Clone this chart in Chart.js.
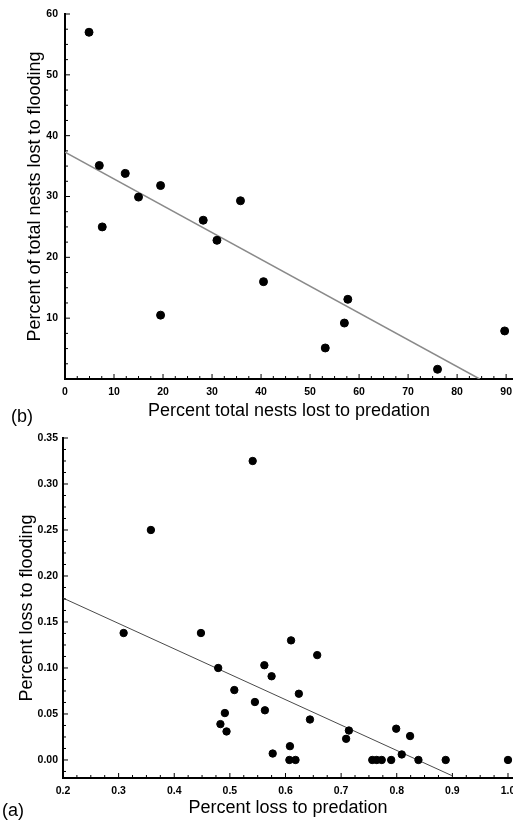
<!DOCTYPE html>
<html>
<head>
<meta charset="utf-8">
<script src="https://cdn.jsdelivr.net/npm/chart.js@4.4.0/dist/chart.umd.min.js"></script>
<style>
  html, body { margin: 0; padding: 0; background: #fff; }
  body { width: 513px; height: 820px; position: relative; overflow: hidden; }
  .panel { position: absolute; left: 0; width: 513px; }
  .tag { position: absolute; font: 18px "Liberation Sans", Arial, sans-serif; color: #000; }
</style>
</head>
<body>
<div class="panel" style="top:0;height:420px;"><canvas id="chartB"></canvas></div>
<div class="panel" style="top:420px;height:400px;"><canvas id="chartA"></canvas></div>
<div class="tag" style="left:11px;top:406px;">(b)</div>
<div class="tag" style="left:2px;top:800px;">(a)</div>
<script>
// Panel (b): percent of total nests
const predB = [4.9, 7.0, 7.6, 12.3, 15.0, 19.5, 19.5, 28.2, 31.0, 35.8, 40.5, 57.7, 57.0, 53.1, 76.0, 89.7];
const floodB = [57.0, 35.1, 25.0, 33.8, 29.9, 31.8, 10.5, 26.1, 22.8, 29.3, 16.0, 13.1, 9.2, 5.1, 1.6, 7.9];
const fitB = [{ x: 0, y: 37.3 }, { x: 84.6, y: 0 }];
const ticksBX = [0, 10, 20, 30, 40, 50, 60, 70, 80, 90];
const ticksBY = [10, 20, 30, 40, 50, 60];

// Panel (a): proportion lost
const predA = [0.541, 0.358, 0.309, 0.448, 0.479, 0.508, 0.545, 0.491, 0.483, 0.494,
  0.610, 0.657, 0.562, 0.575, 0.624, 0.563, 0.644, 0.714, 0.709, 0.799, 0.824,
  0.608, 0.577, 0.809, 0.839, 0.607, 0.618, 0.756, 0.764, 0.773, 0.790, 0.888, 1.0];
const floodA = [0.325, 0.250, 0.138, 0.138, 0.100, 0.076, 0.063, 0.051, 0.039, 0.031,
  0.130, 0.114, 0.103, 0.091, 0.072, 0.054, 0.044, 0.032, 0.023, 0.034, 0.026,
  0.015, 0.007, 0.006, 0, 0, 0, 0, 0, 0, 0, 0, 0];
const fitA = [{ x: 0.2, y: 0.176 }, { x: 0.899, y: -0.017 }];
const ticksAX = [0.2, 0.3, 0.4, 0.5, 0.6, 0.7, 0.8, 0.9, 1.0];
const ticksAY = [0, 0.05, 0.1, 0.15, 0.2, 0.25, 0.3, 0.35];

const fontFam = '"Liberation Sans", Arial, sans-serif';

// small tick marks pointing into the plot
const innerTicks = {
  id: "innerTicks",
  afterDraw(chart, args, opts) {
    const ctx = chart.ctx;
    const xs = chart.scales.x, ys = chart.scales.y;
    ctx.save();
    ctx.strokeStyle = "#000";
    ctx.lineWidth = 1;
    ctx.beginPath();
    const xt = opts.xTicks, yt = opts.yTicks;
    const xStep = (xt[1] - xt[0]) / 4, yStep = (yt[1] - yt[0]) / 4;
    for (let i = 0; xt[0] + i * xStep <= xs.max + 1e-9; i++) {
      const px = xs.getPixelForValue(xt[0] + i * xStep);
      const len = i % 4 === 0 ? 5 : 3;
      ctx.moveTo(px, xs.top);
      ctx.lineTo(px, xs.top - len);
    }
    for (let i = -8; yt[0] + i * yStep <= ys.max + 1e-9; i++) {
      const v = yt[0] + i * yStep;
      if (v < ys.min - 1e-9) continue;
      const py = ys.getPixelForValue(v);
      const len = ((i % 4) + 4) % 4 === 0 ? 5 : 3;
      ctx.moveTo(ys.right, py);
      ctx.lineTo(ys.right + len, py);
    }
    ctx.stroke();
    ctx.restore();
  }
};

function makeChart(id, cfg) {
  const xy = cfg.xs.map((v, i) => ({ x: v, y: cfg.ys[i] }));
  return new Chart(document.getElementById(id), {
    type: "scatter",
    data: {
      datasets: [
        {
          type: "line",
          data: cfg.fit,
          borderColor: cfg.fitColor,
          borderWidth: cfg.fitWidth,
          pointRadius: 0,
          fill: false,
          order: 2,
        },
        {
          data: xy,
          backgroundColor: "#000",
          borderColor: "#000",
          pointRadius: cfg.radius,
          pointHoverRadius: cfg.radius,
          order: 1,
        },
      ],
    },
    options: {
      responsive: true,
      maintainAspectRatio: false,
      animation: false,
      events: [],
      layout: { autoPadding: false, padding: { top: cfg.top, right: 0, left: 0, bottom: 0 } },
      plugins: {
        legend: { display: false },
        tooltip: { enabled: false },
        innerTicks: { xTicks: cfg.xTicks, yTicks: cfg.yTicks },
      },
      scales: {
        x: {
          type: "linear",
          min: cfg.xMin,
          max: cfg.xMax,
          afterBuildTicks: (s) => { s.ticks = cfg.xTicks.map((v) => ({ value: v })); },
          afterFit: (s) => { s.height = cfg.xHeight; s.paddingRight = 0; s.paddingLeft = 0; },
          grid: { display: false, drawTicks: false },
          border: { display: true, color: "#000", width: 2 },
          ticks: {
            autoSkip: false,
            maxRotation: 0,
            padding: 7,
            color: "#000",
            font: { family: fontFam, size: 10.5, weight: "bold" },
            callback: (v) => v.toFixed(cfg.xDec),
          },
          title: {
            display: true,
            text: cfg.xTitle,
            color: "#000",
            font: { family: fontFam, size: 18, lineHeight: 1 },
            padding: { top: 0, bottom: cfg.xTitlePad },
          },
        },
        y: {
          type: "linear",
          min: cfg.yMin,
          max: cfg.yMax,
          afterBuildTicks: (s) => { s.ticks = cfg.yTicks.map((v) => ({ value: v })); },
          afterFit: (s) => { s.width = cfg.yWidth; },
          grid: { display: false, drawTicks: false },
          border: { display: true, color: "#000", width: 2 },
          ticks: {
            autoSkip: false,
            padding: cfg.yTickPad,
            color: "#000",
            font: { family: fontFam, size: 10.5, weight: "bold" },
            callback: (v) => v.toFixed(cfg.yDec),
          },
          title: {
            display: true,
            text: cfg.yTitle,
            color: "#000",
            font: { family: fontFam, size: 18, lineHeight: 1 },
            padding: { top: cfg.yTitlePad, bottom: 0 },
          },
        },
      },
    },
    plugins: [innerTicks],
  });
}

makeChart("chartB", {
  xs: predB, ys: floodB, fit: fitB,
  fitColor: "#8a8a8a", fitWidth: 1.5, radius: 4,
  xTicks: ticksBX, yTicks: ticksBY,
  xMin: 0, xMax: 91.4, yMin: 0, yMax: 60,
  xDec: 0, yDec: 0,
  top: 14, xHeight: 41, yWidth: 65, yTickPad: 7,
  xTitle: "Percent total nests lost to predation", xTitlePad: 0,
  yTitle: "Percent of total nests lost to flooding", yTitlePad: 26,
});

makeChart("chartA", {
  xs: predA, ys: floodA, fit: fitA,
  fitColor: "#4a4a4a", fitWidth: 1, radius: 3.7,
  xTicks: ticksAX, yTicks: ticksAY,
  xMin: 0.2, xMax: 1.009, yMin: -0.0196, yMax: 0.35,
  xDec: 1, yDec: 2,
  top: 18, xHeight: 42, yWidth: 63, yTickPad: 5,
  xTitle: "Percent loss to predation", xTitlePad: 3,
  yTitle: "Percent loss to flooding", yTitlePad: 18,
});
</script>
</body>
</html>
